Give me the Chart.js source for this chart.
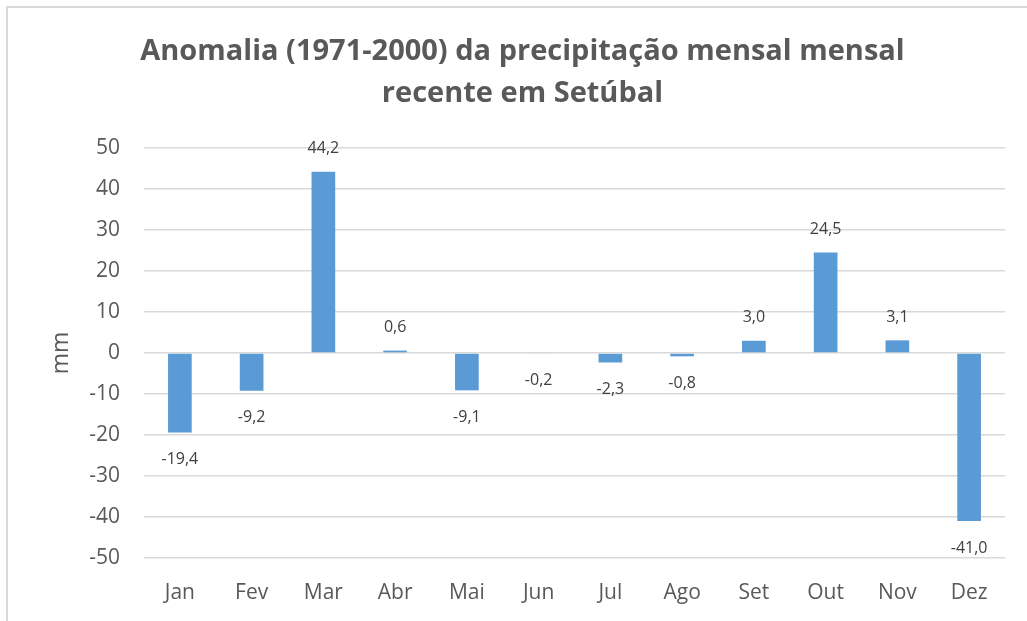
<!DOCTYPE html>
<html>
<head>
<meta charset="utf-8">
<script src="https://cdn.jsdelivr.net/npm/chart.js@4"></script>
<style>
  html, body { margin: 0; padding: 0; background: #fff; overflow: hidden; }
  #wrap { width: 1027px; height: 621px; }
</style>
</head>
<body>
<div id="wrap"><canvas id="grafico"></canvas></div>
<script>
// Dados do gráfico
const meses = ['Jan', 'Fev', 'Mar', 'Abr', 'Mai', 'Jun', 'Jul', 'Ago', 'Set', 'Out', 'Nov', 'Dez'];
const anomalias = [-19.4, -9.2, 44.2, 0.6, -9.1, -0.2, -2.3, -0.8, 3.0, 24.5, 3.1, -41.0];
const titulo = ['Anomalia (1971-2000) da precipitação mensal mensal', 'recente em Setúbal'];
const eixoY = { min: -50, max: 50, passo: 10, titulo: 'mm' };

const fonte = "'Open Sans', sans-serif";
const corTexto = '#595959';

// Moldura cinzenta à volta do gráfico
const moldura = {
    id: 'moldura',
    beforeDraw(chart) {
        const c = chart.ctx;
        c.save();
        c.strokeStyle = '#d9d9d9';
        c.lineWidth = 2;
        c.beginPath();
        c.moveTo(7, chart.height);
        c.lineTo(7, 7);
        c.lineTo(chart.width, 7);
        c.stroke();
        c.restore();
    }
};

// Rótulos de valor por cima / por baixo das barras
const rotulos = {
    id: 'rotulos',
    afterDatasetsDraw(chart) {
        const c = chart.ctx;
        const meta = chart.getDatasetMeta(0);
        c.save();
        c.font = "16px " + fonte;
        c.fillStyle = '#404040';
        c.textAlign = 'center';
        c.textBaseline = 'middle';
        meta.data.forEach((barra, i) => {
            const v = anomalias[i];
            const txt = v.toFixed(1).replace('.', ',');
            const y = v >= 0 ? Math.min(barra.y, barra.base) - 23 : Math.max(barra.y, barra.base) + 27;
            c.fillText(txt, barra.x, y);
        });
        c.restore();
    }
};

const ctx = document.getElementById('grafico').getContext('2d');
new Chart(ctx, {
    type: 'bar',
    data: {
        labels: meses,
        datasets: [{
            data: anomalias,
            backgroundColor: '#5b9bd5',
            borderWidth: 0,
            barPercentage: 0.33,
            categoryPercentage: 1
        }]
    },
    options: {
        responsive: true,
        maintainAspectRatio: false,
        animation: false,
        layout: { padding: { left: 40, right: 22, top: 0, bottom: 0 } },
        plugins: {
            legend: { display: false },
            tooltip: { enabled: false },
            title: {
                display: true,
                text: titulo,
                color: corTexto,
                font: { family: fonte, size: 29, weight: 'bold', lineHeight: 1.45 },
                padding: { top: 31, bottom: 33 }
            }
        },
        scales: {
            x: {
                grid: { display: false, drawTicks: false },
                border: { display: false },
                ticks: { color: corTexto, font: { family: fonte, size: 21 }, padding: 22 },
                afterFit(scale) { scale.height = 63; }
            },
            y: {
                min: eixoY.min,
                max: eixoY.max,
                ticks: {
                    stepSize: eixoY.passo,
                    color: corTexto,
                    font: { family: fonte, size: 21 },
                    padding: 24,
                    callback: (v) => String(v)
                },
                grid: { color: '#d9d9d9', lineWidth: 1.5, drawTicks: false },
                border: { display: false },
                title: {
                    display: true,
                    text: eixoY.titulo,
                    color: corTexto,
                    font: { family: fonte, size: 23 },
                    padding: { top: 8, bottom: 0 }
                },
                afterFit(scale) { scale.width = 104; }
            }
        }
    },
    plugins: [moldura, rotulos]
});
</script>
</body>
</html>
